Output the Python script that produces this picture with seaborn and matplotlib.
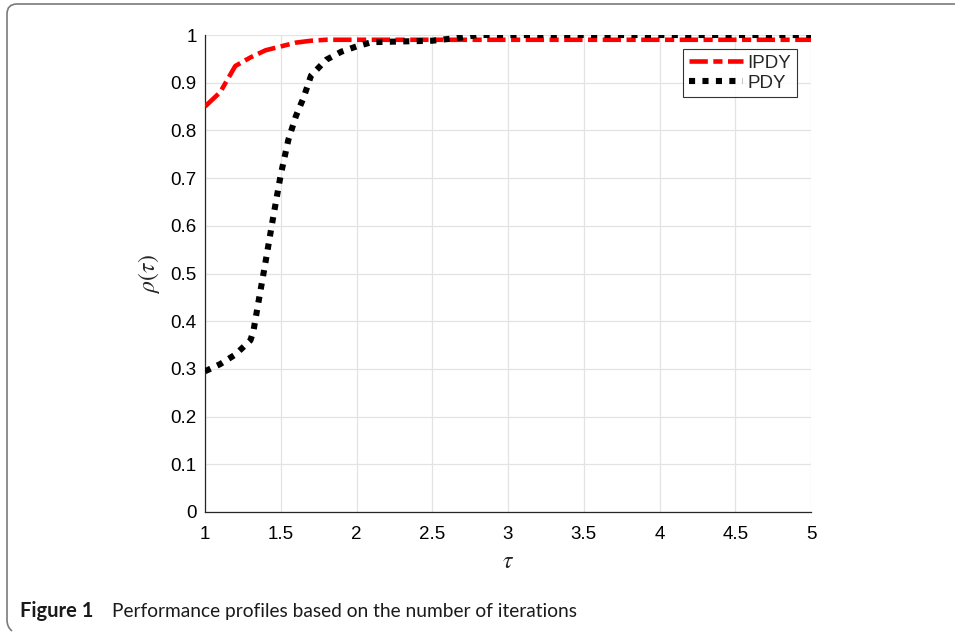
import matplotlib
matplotlib.use("Agg")
import numpy as np
import pandas as pd
import seaborn as sns
import matplotlib.pyplot as plt
from matplotlib.path import Path
from matplotlib.patches import PathPatch

# data
tau_ipdy = [1.0, 1.1, 1.2, 1.3, 1.4, 1.5, 1.6, 1.7, 1.8, 2.0, 5.0]
rho_ipdy = [0.85, 0.88, 0.935, 0.953, 0.968, 0.976, 0.984, 0.988, 0.99, 0.99, 0.99]

tau_pdy = [1.0, 1.1, 1.2, 1.3, 1.32, 1.35, 1.4, 1.45, 1.5, 1.55, 1.6, 1.65, 1.7,
           1.8, 1.9, 2.0, 2.1, 2.5, 2.7, 2.8, 5.0]
rho_pdy = [0.295, 0.31, 0.33, 0.36, 0.38, 0.435, 0.525, 0.618, 0.707, 0.78, 0.83,
           0.868, 0.915, 0.948, 0.965, 0.976, 0.985, 0.988, 0.995, 1.0, 1.0]

x_ticks = [1, 1.5, 2, 2.5, 3, 3.5, 4, 4.5, 5]
x_labels = ["1", "1.5", "2", "2.5", "3", "3.5", "4", "4.5", "5"]
y_ticks = [0, 0.1, 0.2, 0.3, 0.4, 0.5, 0.6, 0.7, 0.8, 0.9, 1]
y_labels = ["0", "0.1", "0.2", "0.3", "0.4", "0.5", "0.6", "0.7", "0.8", "0.9", "1"]

W, H = 955, 636

sns.set_style("white")
plt.rcParams["font.family"] = ["Liberation Sans", "DejaVu Sans"]
plt.rcParams["mathtext.fontset"] = "stix"

fig = plt.figure(figsize=(W / 100, H / 100), dpi=100)
ax = fig.add_axes([205 / W, 1 - 512 / H, (811 - 205) / W, (512 - 35) / H])

df_i = pd.DataFrame({"tau": tau_ipdy, "rho": rho_ipdy})
df_p = pd.DataFrame({"tau": tau_pdy, "rho": rho_pdy})

sns.lineplot(data=df_i, x="tau", y="rho", ax=ax, color="#ff0000", lw=3.3, label="IPDY")
l1 = ax.lines[-1]
sns.lineplot(data=df_p, x="tau", y="rho", ax=ax, color="black", lw=4.4, label="PDY")
l2 = ax.lines[-1]
l1.set_dashes((4.0, 1.2, 2.0, 1.2))
l1.set_dash_capstyle("butt")
l2.set_dashes((1.0, 1.2))
l2.set_dash_capstyle("butt")
l1.set_zorder(3)
l2.set_zorder(4)

ax.set_xlim(1, 5)
ax.set_ylim(0, 1)
ax.set_xticks(x_ticks)
ax.set_xticklabels(x_labels)
ax.set_yticks(y_ticks)
ax.set_yticklabels(y_labels)
ax.grid(True, color="#e3e3e3", lw=0.9)
ax.set_axisbelow(True)
for s in ["top", "right"]:
    ax.spines[s].set_visible(False)
for s in ["left", "bottom"]:
    ax.spines[s].set_color("#262626")
    ax.spines[s].set_linewidth(0.9)
ax.tick_params(direction="in", length=4, width=0.8, color="#262626",
               labelsize=13.5, labelcolor="#000000", pad=6)
ax.tick_params(axis="x", pad=10)
ax.set_xlabel(r"$\tau$", fontsize=17, labelpad=6)
ax.set_ylabel(r"$\rho(\tau)$", fontsize=17, labelpad=6)

leg = ax.legend(loc="upper right", bbox_to_anchor=(1 - 14 / 606, 1 - 14 / 477),
                fontsize=13.5, frameon=True, fancybox=False, handlelength=2.9,
                borderaxespad=0, handletextpad=0.25, labelspacing=0.15,
                borderpad=0.3)
leg.get_frame().set_edgecolor("black")
leg.get_frame().set_linewidth(0.8)

# caption
fig.text(20 / W, 1 - 617 / H, "Figure 1", fontsize=14.5, fontweight="bold",
         family=["Lato", "DejaVu Sans"], va="baseline", color="#1a1a1a")
fig.text(112 / W, 1 - 617 / H, "Performance profiles based on the number of iterations",
         fontsize=13.8, family=["Lato", "DejaVu Sans"], va="baseline", color="#1a1a1a")

# border bracket (top edge + left edge with rounded corners)
pts = [(W, 4), (17, 4), (7, 4), (7, 14), (7, 620), (7, 627), (12, 631)]
codes = [Path.MOVETO, Path.LINETO, Path.CURVE3, Path.CURVE3, Path.LINETO,
         Path.CURVE3, Path.CURVE3]
verts = [(x / W, 1 - y / H) for x, y in pts]
fig.patches.append(PathPatch(Path(verts, codes), transform=fig.transFigure,
                             fill=False, edgecolor="#7a7a7a", lw=1.2))

fig.savefig("out.png", dpi=100, facecolor="white")
